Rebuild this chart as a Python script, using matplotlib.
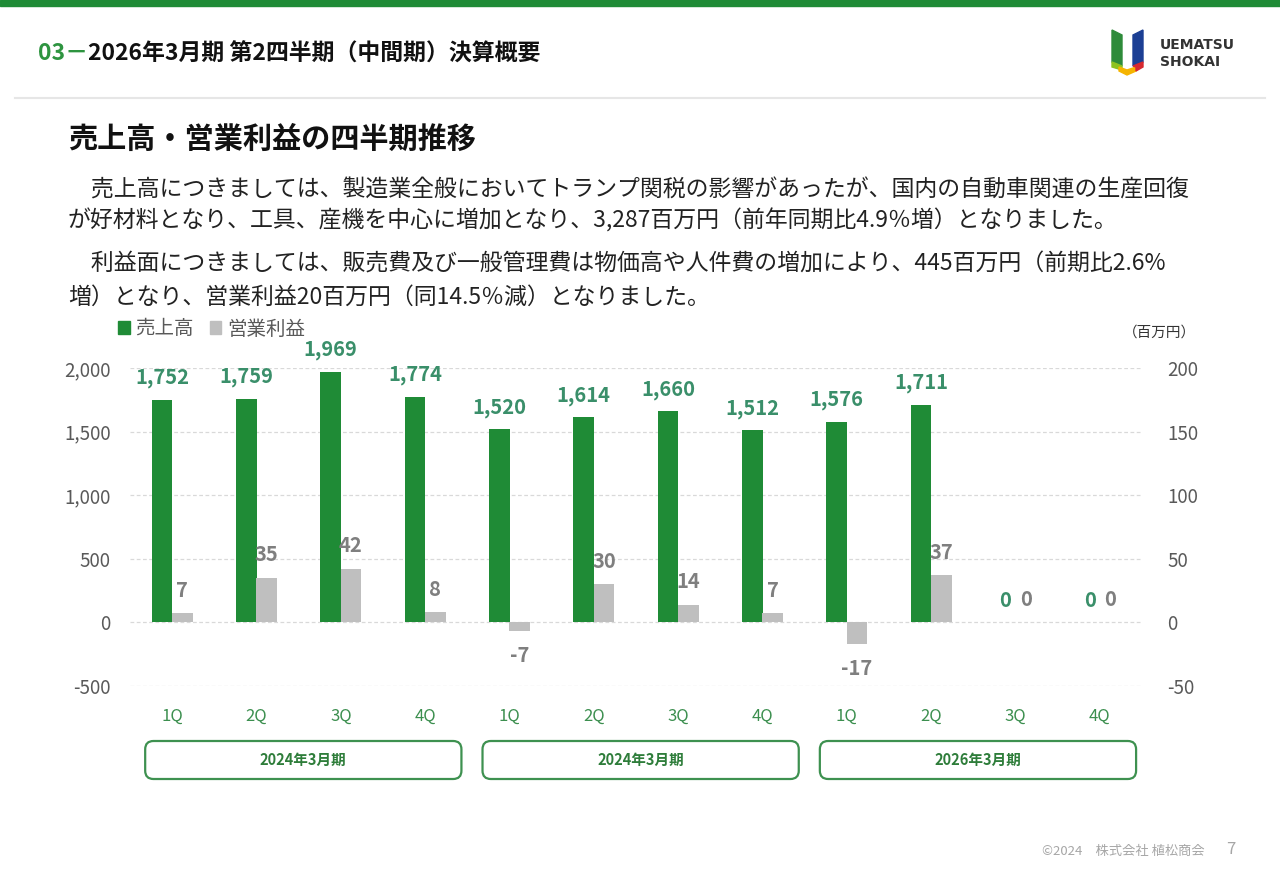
import matplotlib
matplotlib.use("Agg")
import matplotlib.pyplot as plt
from matplotlib.patches import Rectangle, FancyBboxPatch, Polygon, Patch
from matplotlib.ticker import FuncFormatter
import numpy as np

plt.rcParams['font.family'] = ['Noto Sans CJK JP', 'DejaVu Sans']
plt.rcParams['axes.unicode_minus'] = False

# データ（百万円）
quarters = ['1Q', '2Q', '3Q', '4Q'] * 3
sales = [1752, 1759, 1969, 1774, 1520, 1614, 1660, 1512, 1576, 1711, 0, 0]
profit = [7, 35, 42, 8, -7, 30, 14, 7, -17, 37, 0, 0]
periods = ['2024年3月期', '2024年3月期', '2026年3月期']

W, H = 1280, 886
fig = plt.figure(figsize=(W / 100, H / 100), dpi=100)

def fx(px):
    return px / W

def fy(py):
    return 1 - py / H

GREEN = '#1F8B36'
GREY = '#BFBFBF'

# ヘッダー
fig.patches.append(Rectangle((0, fy(6)), 1, 6 / H, transform=fig.transFigure,
                             color=GREEN, zorder=0))
fig.add_artist(plt.Line2D([fx(15), fx(1265)], [fy(98), fy(98)], transform=fig.transFigure,
                          color='#E6E6E6', lw=1.5))
fig.text(fx(38), fy(54), '03－', color='#2E9440', fontsize=16.5, fontweight='bold', va='center')
fig.text(fx(88), fy(54), '2026年3月期 第2四半期（中間期）決算概要', color='#111111',
         fontsize=16.5, fontweight='bold', va='center')

# ロゴ
logo = [
    ([(1112, 30), (1122, 35), (1122, 66), (1112, 62)], '#2E8B3A'),
    ([(1133, 35), (1143, 30), (1143, 62), (1133, 66)], '#1C3F94'),
    ([(1112, 62), (1122, 66), (1122, 70), (1112, 67)], '#8DC21F'),
    ([(1119, 67), (1127, 70), (1136, 67), (1136, 71), (1127, 75), (1119, 71)], '#F5B400'),
    ([(1133, 66), (1143, 62), (1143, 67), (1136, 71), (1136, 67)], '#D7282F'),
]
for pts, c in logo:
    fig.patches.append(Polygon([(fx(a), fy(b)) for a, b in pts], closed=True,
                               transform=fig.transFigure, color=c))
fig.text(fx(1160), fy(45), 'UEMATSU', family='DejaVu Sans', fontsize=10, fontweight='bold',
         color='#333333', va='center')
fig.text(fx(1160), fy(62), 'SHOKAI', family='DejaVu Sans', fontsize=10, fontweight='bold',
         color='#333333', va='center')

# 見出しと本文
fig.text(fx(68), fy(139), '売上高・営業利益の四半期推移', fontsize=21, fontweight='bold',
         color='#111111', va='center')
body = [
    ('\u3000売上高につきましては、製造業全般においてトランプ関税の影響があったが、国内の自動車関連の生産回復', 190),
    ('が好材料となり、工具、産機を中心に増加となり、3,287百万円（前年同期比4.9％増）となりました。', 221),
    ('\u3000利益面につきましては、販売費及び一般管理費は物価高や人件費の増加により、445百万円（前期比2.6%', 264),
    ('増）となり、営業利益20百万円（同14.5％減）となりました。', 297),
]
for s, y in body:
    fig.text(fx(68), fy(y), s, fontsize=16.5, color='#222222', va='center')

# グラフ
ax = fig.add_axes([fx(130), fy(686), 1012 / W, 318 / H])
ax2 = ax.twinx()
x = np.arange(len(sales))
bw = 0.243

ax.bar(x - 0.12, sales, bw, color=GREEN, label='売上高', zorder=2)
ax2.bar(x + 0.12, profit, bw, color=GREY, label='営業利益', zorder=2)

ax.set_xlim(-0.5, 11.5)
ax.set_ylim(-500, 2000)
ax2.set_ylim(-50, 200)
ax.set_yticks(np.arange(-500, 2001, 500))
ax2.set_yticks(np.arange(-50, 201, 50))
ax.yaxis.set_major_formatter(FuncFormatter(lambda v, p: f'{int(v):,}'))
ax.grid(axis='y', color='#D9D9D9', linestyle=(0, (3, 2)), lw=0.9)
ax.set_axisbelow(True)
for a in (ax, ax2):
    for sp in a.spines.values():
        sp.set_visible(False)
ax.tick_params(axis='y', length=0, pad=14, labelsize=13.5, labelcolor='#595959')
ax2.tick_params(axis='y', length=0, pad=18, labelsize=13.5, labelcolor='#595959')
ax.set_xticks(x)
ax.set_xticklabels(quarters)
ax.tick_params(axis='x', length=0, pad=16, labelsize=12, labelcolor='#3C8F4F')

for xi, v in zip(x, sales):
    ax.annotate(f'{v:,}', (xi - 0.12, v), xytext=(0, 22), textcoords='offset pixels',
                ha='center', va='center', fontsize=14.5, fontweight='bold', color='#3A8F6A')
for xi, v in zip(x, profit):
    off = 23 if v >= 0 else -24
    ax2.annotate(f'{v:,}', (xi + 0.12, v), xytext=(0, off), textcoords='offset pixels',
                 ha='center', va='center', fontsize=14.5, fontweight='bold', color='#7F7F7F')

handles = [Patch(color=GREEN, label='売上高'), Patch(color=GREY, label='営業利益')]
fig.legend(handles=handles, loc='center left', bbox_to_anchor=(fx(118), fy(329)),
           ncol=2, frameon=False, fontsize=14, labelcolor='#595959', handlelength=0.6,
           handleheight=0.6, handletextpad=0.3, columnspacing=0.8, borderaxespad=0,
           borderpad=0)
fig.text(fx(1196), fy(333), '（百万円）', fontsize=10.5, color='#333333', ha='right', va='center')

# 期間ボックス
x0, x1 = ax.get_xlim()
def dx(v):
    return ax.get_position().x0 + (v - x0) / (x1 - x0) * ax.get_position().width

for g, label in enumerate(periods):
    left, right = dx(4 * g - 0.32), dx(4 * g + 3.43)
    box = FancyBboxPatch((left, fy(779)), right - left, 38 / H, transform=fig.transFigure,
                         boxstyle='round,pad=0,rounding_size=0.0065', mutation_aspect=W / H,
                         fc='white', ec='#3E9150', lw=1.6)
    fig.patches.append(box)
    fig.text((left + right) / 2, fy(760), label, fontsize=10.5, fontweight='bold',
             color='#2E7D3A', ha='center', va='center')

# フッター
fig.text(fx(1205), fy(851), '©2024\u3000株式会社 植松商会', fontsize=9.5, color='#A6A6A6',
         ha='right', va='center')
fig.text(fx(1231), fy(850), '7', fontsize=12, color='#A6A6A6', ha='center', va='center')

fig.savefig('out.png', dpi=100)
